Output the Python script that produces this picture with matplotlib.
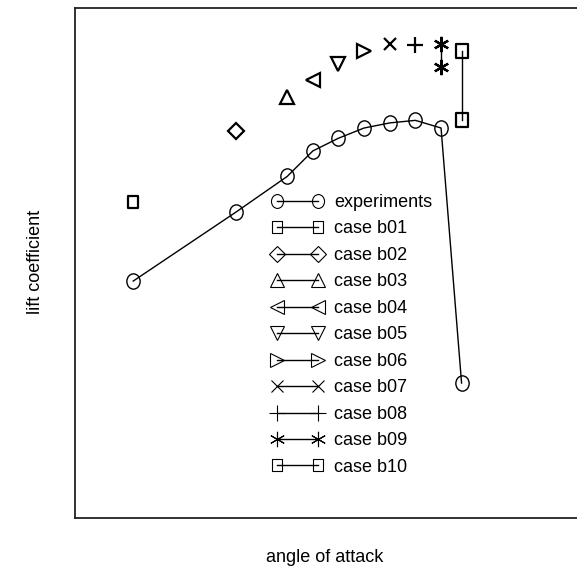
import matplotlib
matplotlib.use("Agg")
import matplotlib.pyplot as plt
from matplotlib.lines import Line2D
from matplotlib.path import Path
from matplotlib.transforms import Affine2D

plt.rcParams['font.family'] = ['Liberation Sans', 'DejaVu Sans']

# measured lift curve
exp_alpha = [0, 4, 6, 7, 8, 9, 10, 11, 12, 12.8]
exp_cl = [0.93, 1.20, 1.34, 1.44, 1.49, 1.53, 1.55, 1.56, 1.53, 0.53]

# computed cases
case_names = ["case b01", "case b02", "case b03", "case b04", "case b05",
              "case b06", "case b07", "case b08", "case b09", "case b10"]
case_alpha = [[0], [4], [6], [7], [8], [9], [10], [11], [12, 12], [12.8, 12.8]]
case_cl = [[1.24], [1.52], [1.65], [1.72], [1.78], [1.83], [1.86], [1.855],
           [1.86, 1.77], [1.83, 1.56]]

# slightly tall open circle and box markers
oval = Path.unit_circle().transformed(Affine2D().scale(0.87, 1.0))
box = Path([(-0.42, -0.5), (0.42, -0.5), (0.42, 0.5), (-0.42, 0.5),
            (-0.42, -0.5)], closed=True)

case_markers = [box, 'D', '^', '<', 'v', '>', 'x', '+', (6, 2, 0), box]
case_msize = [8, 8, 10, 10, 10, 10, 8, 12, 11, 9.5]

fig = plt.figure(figsize=(5.77, 5.81), dpi=100)
ax = fig.add_axes([0.13, 0.108, 0.87, 0.878])

ax.plot(exp_alpha, exp_cl, color='black', lw=1, marker=oval, ms=11,
        mfc='none', mec='black', mew=1)
for a, c, m, s in zip(case_alpha, case_cl, case_markers, case_msize):
    ax.plot(a, c, color='black', lw=1, marker=m, ms=s, mfc='none',
            mec='black', mew=1.6)

ax.set_xlim(-2.27, 17.3)
ax.set_ylim(0, 2)
ax.set_xticks([])
ax.set_yticks([])
ax.spines['right'].set_visible(False)
for sp in ('left', 'top', 'bottom'):
    ax.spines[sp].set_linewidth(1.3)
    ax.spines[sp].set_color('#222222')

handles = [Line2D([], [], color='black', lw=1, marker=oval, ms=10,
                  mfc='none', mec='black', mew=0.8)]
leg_size = [9, 8.5, 10, 10, 10, 10, 8, 12, 11, 9]
for m, s in zip(case_markers, leg_size):
    handles.append(Line2D([], [], color='black', lw=1, marker=m, ms=s,
                          mfc='none', mec='black', mew=0.8))
labels = ["experiments"] + case_names

ax.legend(handles, labels, loc='upper left',
          bbox_to_anchor=(271.5 / 577, 1 - 194 / 581),
          bbox_transform=fig.transFigure, frameon=False, numpoints=2,
          fontsize=13, handlelength=2.88, handletextpad=0.59,
          labelspacing=0.525, borderpad=0, borderaxespad=0)

fig.text(35 / 577, 1 - 262 / 581, "lift coefficient", rotation=90,
         ha='center', va='center', fontsize=13)
fig.text(325 / 577, 1 - 558 / 581, "angle of attack",
         ha='center', va='center', fontsize=13)

fig.savefig("out.png", dpi=100)
